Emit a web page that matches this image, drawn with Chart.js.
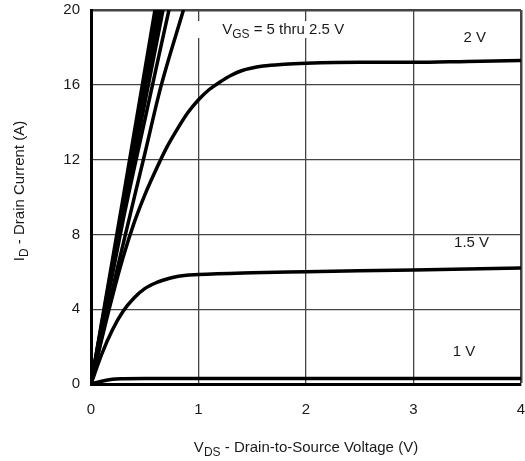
<!DOCTYPE html>
<html>
<head>
<meta charset="utf-8">
<script src="https://cdn.jsdelivr.net/npm/chart.js@4.4.1/dist/chart.umd.min.js"></script>
<style>
  html, body { margin: 0; padding: 0; background: #fff; }
  #wrap { width: 525px; height: 461px; }
</style>
</head>
<body>
<div id="wrap"><canvas id="chart" width="525" height="461"></canvas></div>
<script>
// Output characteristics: drain current vs drain-to-source voltage
const xTicks = [0, 1, 2, 3, 4];
const yTicks = [0, 4, 8, 12, 16, 20];

// VGS = 5 thru 2.5 V (steep, ohmic region)
const vds5V = [0, 0.3, 0.595];
const id5V = [0, 10, 20];
const vds45V = [0, 0.31, 0.62];
const id45V = [0, 10, 20];
const vds4V = [0, 0.32, 0.645];
const id4V = [0, 10, 20];
const vds35V = [0, 0.33, 0.67];
const id35V = [0, 10, 20];
const vds3V = [0, 0.3, 0.5, 0.725];
const id3V = [0, 8.8, 14.1, 20];
const vds25V = [0, 0.25, 0.5, 0.65, 0.86];
const id25V = [0, 6.3, 12.3, 15.9, 20];

// VGS = 2 V
const vds2V = [0, 0.1, 0.2, 0.3, 0.4, 0.5, 0.6, 0.7, 0.8, 0.9, 1.0, 1.1, 1.2, 1.3, 1.4, 1.6, 1.8, 2.0, 2.5, 3.0, 3.5, 4.0];
const id2V = [0, 2.4, 4.7, 6.8, 8.6, 10.1, 11.4, 12.6, 13.6, 14.5, 15.2, 15.75, 16.15, 16.5, 16.75, 17.0, 17.1, 17.15, 17.2, 17.2, 17.25, 17.3];

// VGS = 1.5 V
const vds15V = [0, 0.1, 0.2, 0.3, 0.4, 0.5, 0.6, 0.7, 0.8, 1.0, 1.5, 2.0, 3.0, 4.0];
const id15V = [0, 1.6, 2.9, 3.9, 4.6, 5.1, 5.4, 5.6, 5.75, 5.85, 5.95, 6.0, 6.1, 6.2];

// VGS = 1 V
const vds1V = [0, 0.1, 0.2, 0.3, 0.5, 1, 2, 3, 4];
const id1V = [0, 0.15, 0.25, 0.28, 0.3, 0.3, 0.3, 0.3, 0.3];

const FONT = "'Liberation Sans', Arial, sans-serif";
const TEXT = "#1a1a1a";

function pts(xs, ys) {
  return xs.map((x, i) => ({ x: x, y: ys[i] }));
}

function curve(xs, ys) {
  return {
    data: pts(xs, ys),
    borderColor: "#000",
    borderWidth: 3.5,
    pointRadius: 0,
    fill: false,
    cubicInterpolationMode: "monotone",
  };
}

// draws text with subscript parts, e.g. [["V"], ["GS", true], [" = 5 V"]]
function drawParts(ctx, parts, x, y, size, align) {
  const subSize = Math.round(size * 0.8);
  let total = 0;
  parts.forEach((p) => {
    ctx.font = (p[1] ? subSize : size) + "px " + FONT;
    total += ctx.measureText(p[0]).width;
  });
  let cx = align === "center" ? x - total / 2 : x;
  ctx.textAlign = "left";
  ctx.textBaseline = "middle";
  parts.forEach((p) => {
    ctx.font = (p[1] ? subSize : size) + "px " + FONT;
    ctx.fillText(p[0], cx, p[1] ? y + size * 0.3 : y);
    cx += ctx.measureText(p[0]).width;
  });
  return total;
}

const labelsPlugin = {
  id: "labels",
  afterDatasetsDraw(chart) {
    const ctx = chart.ctx;
    const xs = chart.scales.x;
    const ys = chart.scales.y;
    ctx.save();

    // VGS label box
    const lx = xs.getPixelForValue(1.22);
    const ly = ys.getPixelForValue(18.93);
    ctx.fillStyle = "#fff";
    ctx.fillRect(lx - 25, ly - 9, 170, 17);
    ctx.fillStyle = TEXT;
    drawParts(ctx, [["V"], ["GS", true], [" = 5 thru 2.5 V"]], lx, ly, 15, "left");

    drawParts(ctx, [["2 V"]], xs.getPixelForValue(3.57), ys.getPixelForValue(18.5), 15, "center");
    drawParts(ctx, [["1.5 V"]], xs.getPixelForValue(3.54), ys.getPixelForValue(7.54), 15, "center");
    drawParts(ctx, [["1 V"]], xs.getPixelForValue(3.47), ys.getPixelForValue(1.71), 15, "center");

    // axis titles
    const area = chart.chartArea;
    drawParts(ctx, [["V"], ["DS", true], [" - Drain-to-Source Voltage (V)"]],
      (area.left + area.right) / 2, 448, 15, "center");
    ctx.translate(20, (area.top + area.bottom) / 2 - 6);
    ctx.rotate(-Math.PI / 2);
    drawParts(ctx, [["I"], ["D", true], [" - Drain Current (A)"]], 0, 0, 15, "center");
    ctx.restore();
  },
};

new Chart(document.getElementById("chart").getContext("2d"), {
  type: "line",
  data: {
    datasets: [
      curve(vds5V, id5V),
      curve(vds45V, id45V),
      curve(vds4V, id4V),
      curve(vds35V, id35V),
      curve(vds3V, id3V),
      curve(vds25V, id25V),
      curve(vds2V, id2V),
      curve(vds15V, id15V),
      curve(vds1V, id1V),
    ],
  },
  options: {
    responsive: false,
    animation: false,
    devicePixelRatio: 1,
    layout: { padding: { top: 10, right: 4, left: 0, bottom: 0 } },
    plugins: {
      legend: { display: false },
      tooltip: { enabled: false },
    },
    scales: {
      x: {
        type: "linear",
        min: xTicks[0],
        max: xTicks[xTicks.length - 1],
        afterBuildTicks: (scale) => {
          scale.ticks = xTicks.map((v) => ({ value: v }));
        },
        afterFit: (scale) => {
          scale.height = 77;
          scale.paddingLeft = 0;
          scale.paddingRight = 0;
        },
        ticks: { font: { family: FONT, size: 15 }, color: TEXT, padding: 17 },
        grid: {
          color: "#444",
          lineWidth: (c) => (c.index === xTicks.length - 1 ? 2.5 : 1.3),
          drawTicks: false,
        },
        border: { display: true, color: "#000", width: 3 },
      },
      y: {
        type: "linear",
        min: yTicks[0],
        max: yTicks[yTicks.length - 1],
        afterBuildTicks: (scale) => {
          scale.ticks = yTicks.map((v) => ({ value: v }));
        },
        afterFit: (scale) => {
          scale.width = 91;
          scale.paddingTop = 0;
          scale.paddingBottom = 0;
        },
        ticks: { font: { family: FONT, size: 15 }, color: TEXT, padding: 11 },
        grid: {
          color: "#444",
          lineWidth: (c) => (c.index === yTicks.length - 1 ? 2.5 : 1.3),
          drawTicks: false,
        },
        border: { display: true, color: "#000", width: 3 },
      },
    },
  },
  plugins: [labelsPlugin],
});
</script>
</body>
</html>
